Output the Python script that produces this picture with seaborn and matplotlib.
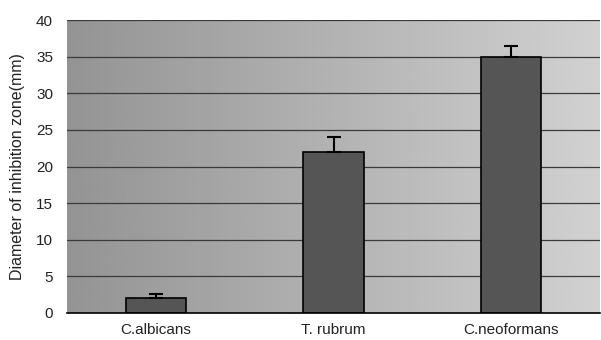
import numpy as np
import pandas as pd
import matplotlib
matplotlib.use("Agg")
import matplotlib.pyplot as plt
import seaborn as sns

categories = ["C.albicans", "T. rubrum", "C.neoformans"]
values = [2.0, 22.0, 35.0]
errors = [0.6, 2.0, 1.5]
yticks = [0, 5, 10, 15, 20, 25, 30, 35, 40]

df = pd.DataFrame({"organism": categories, "diameter": values})

sns.set_theme(style="white")
plt.rcParams["font.family"] = ["Liberation Sans", "DejaVu Sans"]

fig = plt.figure(figsize=(6.01, 3.4), dpi=100)
ax = fig.add_axes([67/601, 27/340, 533/601, 293/340])

# gradient background
grad = np.linspace(0.58, 0.82, 256)[None, :]
ax.imshow(grad, cmap="gray", vmin=0, vmax=1, aspect="auto",
          extent=[-0.5, 2.5, 0, 40], zorder=0)

sns.barplot(data=df, x="organism", y="diameter", ax=ax, color="#555555",
            width=0.34, edgecolor="black", linewidth=1.2, zorder=3)
ax.errorbar(range(len(categories)), values,
            yerr=[[0]*len(errors), errors], fmt="none", ecolor="black",
            elinewidth=1.5, capsize=5, capthick=1.5, zorder=4)

ax.set_xlim(-0.5, 2.5)
ax.set_ylim(0, 40)
ax.set_yticks(yticks)
ax.set_yticklabels([str(t) for t in yticks], fontsize=11, color="#222222")
for y in yticks[1:]:
    ax.axhline(y, color="#3a3a3a", lw=0.9, zorder=1)
ax.tick_params(axis="x", labelsize=11, colors="#222222", length=0, pad=7)
ax.tick_params(axis="y", length=0, pad=10)
ax.set_xlabel("")
ax.set_ylabel("Diameter of inhibition zone(mm)", fontsize=11.5, color="#222222", labelpad=8)
for s in ["top", "right", "left"]:
    ax.spines[s].set_visible(False)
ax.spines["bottom"].set_color("black")
ax.spines["bottom"].set_linewidth(1.2)
ax.spines["bottom"].set_zorder(5)

fig.savefig("out.png", dpi=100)
